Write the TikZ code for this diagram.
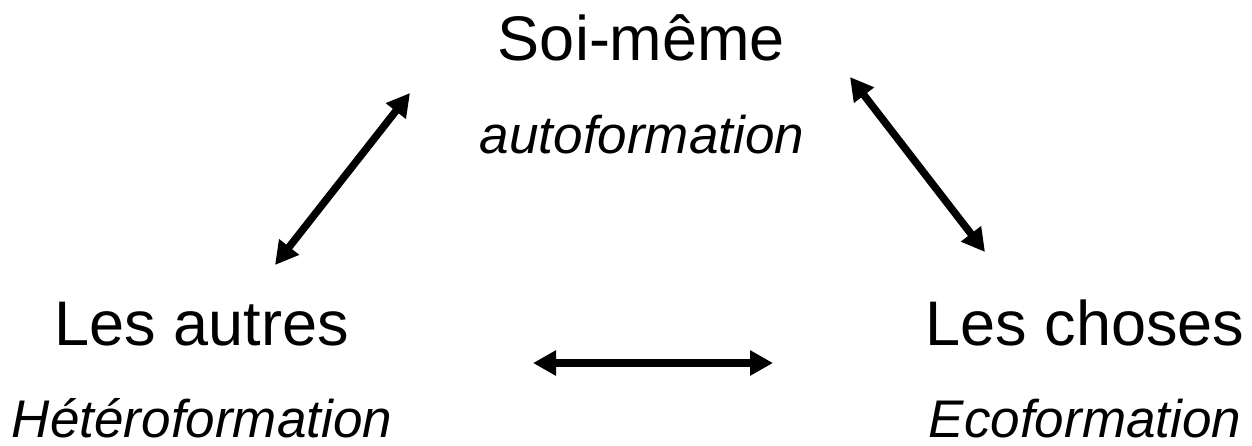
\documentclass[tikz,border=0pt]{standalone}
\usepackage{fontspec}
\setmainfont{Liberation Sans}
\usetikzlibrary{arrows.meta}
\begin{document}
\begin{tikzpicture}[x=1pt,y=-1pt,
  big/.style={inner sep=0pt,anchor=base,font=\fontsize{63}{70}\selectfont},
  sub/.style={inner sep=0pt,anchor=base,font=\fontsize{53}{60}\selectfont\itshape},
  link/.style={line width=7.5pt,{Triangle[length=23pt,width=24pt]}-{Triangle[length=23pt,width=24pt]}}]
\useasboundingbox (0,0) rectangle (1252,445);
\node[big] (soi) at (641.5,60) {Soi-même};
\node[sub] (auto) at (642,153) {autoformation};
\node[big] (autres) at (202,345) {Les autres};
\node[sub] (hetero) at (202,437) {Hétéroformation};
\node[big] (choses) at (1085,345) {Les choses};
\node[sub] (eco) at (1085,437) {Ecoformation};
\coordinate (la) at (410,93);
\coordinate (lb) at (275,265);
\coordinate (ra) at (850,77);
\coordinate (rb) at (985,252);
\coordinate (ha) at (533,363);
\coordinate (hb) at (773,363);
\draw[link] (la) -- (lb);
\draw[link] (ra) -- (rb);
\draw[link] (ha) -- (hb);
\end{tikzpicture}
\end{document}
